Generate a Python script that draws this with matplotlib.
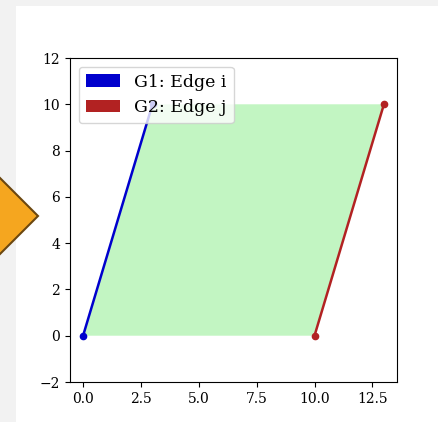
import matplotlib
matplotlib.use("Agg")
import matplotlib.pyplot as plt
from matplotlib.patches import Polygon, Rectangle

plt.rcParams['font.family'] = ['DejaVu Serif']

# parallelogram corners
poly_x = [0, 3, 13, 10]
poly_y = [0, 10, 10, 0]
# edge i of G1, edge j of G2
edge_i_x = [0, 3]
edge_i_y = [0, 10]
edge_j_x = [10, 13]
edge_j_y = [0, 10]
labels = ['G1: Edge i', 'G2: Edge j']
colors = ['mediumblue', 'firebrick']
xticks = [0.0, 2.5, 5.0, 7.5, 10.0, 12.5]
yticks = [-2, 0, 2, 4, 6, 8, 10, 12]

W, H = 439, 422
fig = plt.figure(figsize=(W / 100, H / 100), dpi=100)
fig.patch.set_facecolor('#f2f2f2')
# white panel behind everything
fig.patches.append(Rectangle((16 / W, 0), 1 - 16 / W, (H - 6) / H,
                             transform=fig.transFigure, facecolor='white',
                             edgecolor='none', zorder=-5))
# orange diamond partly off the left edge
cx, cy, r = -3, 216, 41
diamond = [(cx + r, cy), (cx, cy + r), (cx - r, cy), (cx, cy - r)]
fig.patches.append(Polygon([(x / W, (H - y) / H) for x, y in diamond],
                           closed=True, transform=fig.transFigure,
                           facecolor='#f5a61f', edgecolor='#6b4710',
                           linewidth=1.5, zorder=-4))

ax = fig.add_axes([70 / W, (H - 382) / H, (397 - 70) / W, (382 - 58) / H])
ax.fill(poly_x, poly_y, color='lightgreen', alpha=0.55, linewidth=0)
ax.plot(edge_i_x, edge_i_y, color=colors[0], linewidth=1.8, marker='o', markersize=4.5)
ax.plot(edge_j_x, edge_j_y, color=colors[1], linewidth=1.8, marker='o', markersize=4.5)

handles = [Rectangle((0, 0), 1, 1, facecolor=c, edgecolor='none') for c in colors]
ax.legend(handles, labels, loc='upper left', fontsize=12.5)

ax.set_aspect('equal', adjustable='datalim')
ax.set_xticks(xticks)
ax.set_yticks(yticks)
ax.tick_params(labelsize=10)

fig.savefig('out.png', dpi=100, facecolor=fig.get_facecolor())
